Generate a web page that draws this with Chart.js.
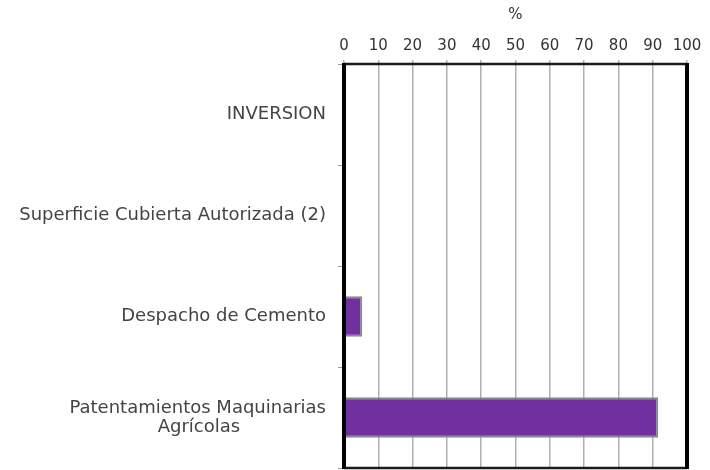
<!DOCTYPE html>
<html>
<head>
<meta charset="utf-8">
<script src="https://cdn.jsdelivr.net/npm/chart.js@4/dist/chart.umd.min.js"></script>
<style>
  body { margin: 0; background: #fff; }
  #wrap { width: 710px; height: 470px; }
</style>
</head>
<body>
<div id="wrap"><canvas id="chart"></canvas></div>
<script>
// Datos del gráfico
const categorias = [
    'INVERSION',
    'Superficie Cubierta Autorizada (2)',
    'Despacho de Cemento',
    ['Patentamientos Maquinarias', 'Agrícolas' + ' '.repeat(15)]
];
const valores = [null, null, 5.3, 91.6];
const ticksX = [0, 10, 20, 30, 40, 50, 60, 70, 80, 90, 100];

const fuente = { family: 'DejaVu Sans', size: 18, lineHeight: 1.05 };
const fuenteTicks = { family: 'DejaVu Sans', size: 15 };

// Marco negro alrededor del área del gráfico
const marco = {
    id: 'marco',
    afterDraw(chart) {
        const { ctx, chartArea: a } = chart;
        ctx.save();
        ctx.strokeStyle = '#1a1a1a';
        ctx.lineWidth = 2.5;
        ctx.beginPath();
        ctx.moveTo(a.left, a.top); ctx.lineTo(a.right, a.top);
        ctx.moveTo(a.left, a.bottom); ctx.lineTo(a.right, a.bottom);
        ctx.stroke();
        ctx.strokeStyle = '#000';
        ctx.lineWidth = 4;
        ctx.beginPath();
        ctx.moveTo(a.left, a.top - 1); ctx.lineTo(a.left, a.bottom + 1);
        ctx.moveTo(a.right, a.top - 1); ctx.lineTo(a.right, a.bottom + 1);
        ctx.stroke();
        ctx.restore();
    }
};

new Chart(document.getElementById('chart'), {
    type: 'bar',
    data: {
        labels: categorias,
        datasets: [{
            data: valores,
            backgroundColor: '#7030A0',
            borderColor: '#8a8a8a',
            borderWidth: 2,
            barPercentage: 0.4,
            categoryPercentage: 1
        }]
    },
    options: {
        indexAxis: 'y',
        responsive: true,
        maintainAspectRatio: false,
        animation: false,
        layout: { padding: { top: 0, right: 23, bottom: 2, left: 0 } },
        plugins: {
            legend: { display: false },
            tooltip: { enabled: false }
        },
        scales: {
            x: {
                position: 'top',
                min: 0,
                max: 100,
                afterBuildTicks: s => { s.ticks = ticksX.map(v => ({ value: v })); },
                afterFit: s => { s.height = 64; },
                title: {
                    display: true,
                    text: '%',
                    color: '#333',
                    font: fuenteTicks,
                    padding: { top: 6, bottom: 0 }
                },
                ticks: {
                    color: '#333',
                    font: fuenteTicks,
                    padding: 5,
                    maxRotation: 0
                },
                grid: { color: '#b0b0b0', lineWidth: 1.5, tickLength: 4 },
                border: { display: false }
            },
            y: {
                afterFit: s => {
                    s.width = 344;
                    s.paddingTop = 0;
                    s.paddingBottom = 0;
                },
                ticks: {
                    color: '#444',
                    font: fuente,
                    padding: 12
                },
                grid: {
                    drawOnChartArea: false,
                    drawTicks: true,
                    tickLength: 6,
                    color: '#999'
                },
                border: { display: false }
            }
        }
    },
    plugins: [marco]
});
</script>
</body>
</html>
